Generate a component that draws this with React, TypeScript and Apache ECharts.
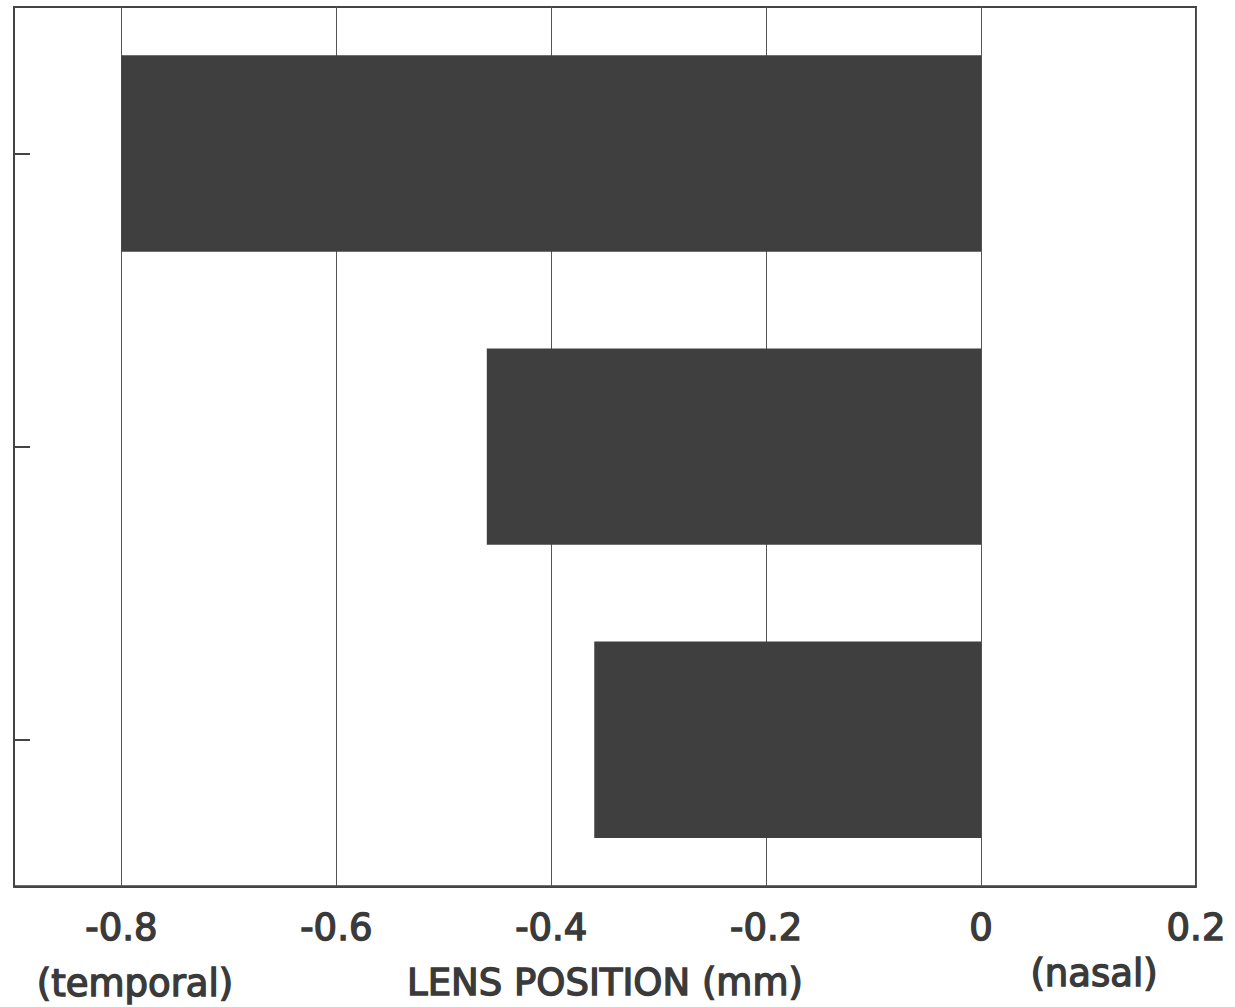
import React, { useEffect, useRef } from "react";
import * as echarts from "echarts";

const categories = ["1", "2", "3"];
const lensPositions = [-0.8, -0.46, -0.36];
const xMin = -0.9;
const xMax = 0.2;
const tickStep = 0.2;
const axisTitle = "LENS POSITION (mm)";
const leftNote = "(temporal)";
const rightNote = "(nasal)";

const FONT = "'DejaVu Sans', 'Liberation Sans', Arial, sans-serif";
const INK = "#3a3a3a";

export default function App() {
  const ref = useRef<HTMLDivElement>(null);
  useEffect(() => {
    if (!ref.current) return;
    const chart = echarts.init(ref.current, null, { renderer: "svg" });
    const textBase = {
      fontFamily: FONT,
      fontSize: 37,
      color: INK,
      textBorderColor: INK,
      textBorderWidth: 1.4,
    };
    chart.setOption({
      animation: false,
      backgroundColor: "#ffffff",
      grid: {
        left: 14,
        right: 39,
        top: 7,
        bottom: 120,
        show: true,
        borderColor: "#444",
        borderWidth: 2,
        containLabel: false,
      },
      xAxis: {
        type: "value",
        min: xMin,
        max: xMax,
        splitNumber: 5,
        name: axisTitle,
        nameLocation: "middle",
        nameGap: 78,
        nameTextStyle: { ...textBase },
        axisLine: { show: true, lineStyle: { color: "#444", width: 2 } },
        axisTick: { show: false },
        splitLine: { show: true, lineStyle: { color: "#555", width: 1 } },
        axisLabel: {
          margin: 23,
          ...textBase,
          formatter: (v: number) => {
            const k = Math.round(v / tickStep);
            if (Math.abs(k * tickStep - v) > 1e-6) return "";
            const r = Number((k * tickStep).toFixed(1));
            return r === 0 ? "0" : String(r);
          },
        },
      },
      yAxis: {
        type: "category",
        data: categories,
        inverse: true,
        axisLabel: { show: false },
        axisLine: {
          show: true,
          onZero: false,
          lineStyle: { color: "#444", width: 2 },
        },
        axisTick: {
          show: true,
          inside: true,
          length: 16,
          alignWithLabel: true,
          lineStyle: { color: "#444", width: 2 },
        },
        splitLine: { show: false },
      },
      series: [
        {
          type: "bar",
          data: lensPositions,
          barWidth: "67%",
          itemStyle: { color: "#3f3f3f" },
        },
      ],
      graphic: [
        {
          type: "text",
          x: 135,
          y: 983,
          style: {
            text: leftNote,
            font: `37px ${FONT}`,
            fill: INK,
            stroke: INK,
            lineWidth: 1.4,
            align: "center",
            verticalAlign: "middle",
          },
        },
        {
          type: "text",
          x: 1094,
          y: 973,
          style: {
            text: rightNote,
            font: `37px ${FONT}`,
            fill: INK,
            stroke: INK,
            lineWidth: 1.4,
            align: "center",
            verticalAlign: "middle",
          },
        },
      ],
    });
    return () => chart.dispose();
  }, []);
  return (
    <div
      ref={ref}
      style={{ position: "fixed", left: 0, top: 0, width: 1235, height: 1007 }}
    />
  );
}
